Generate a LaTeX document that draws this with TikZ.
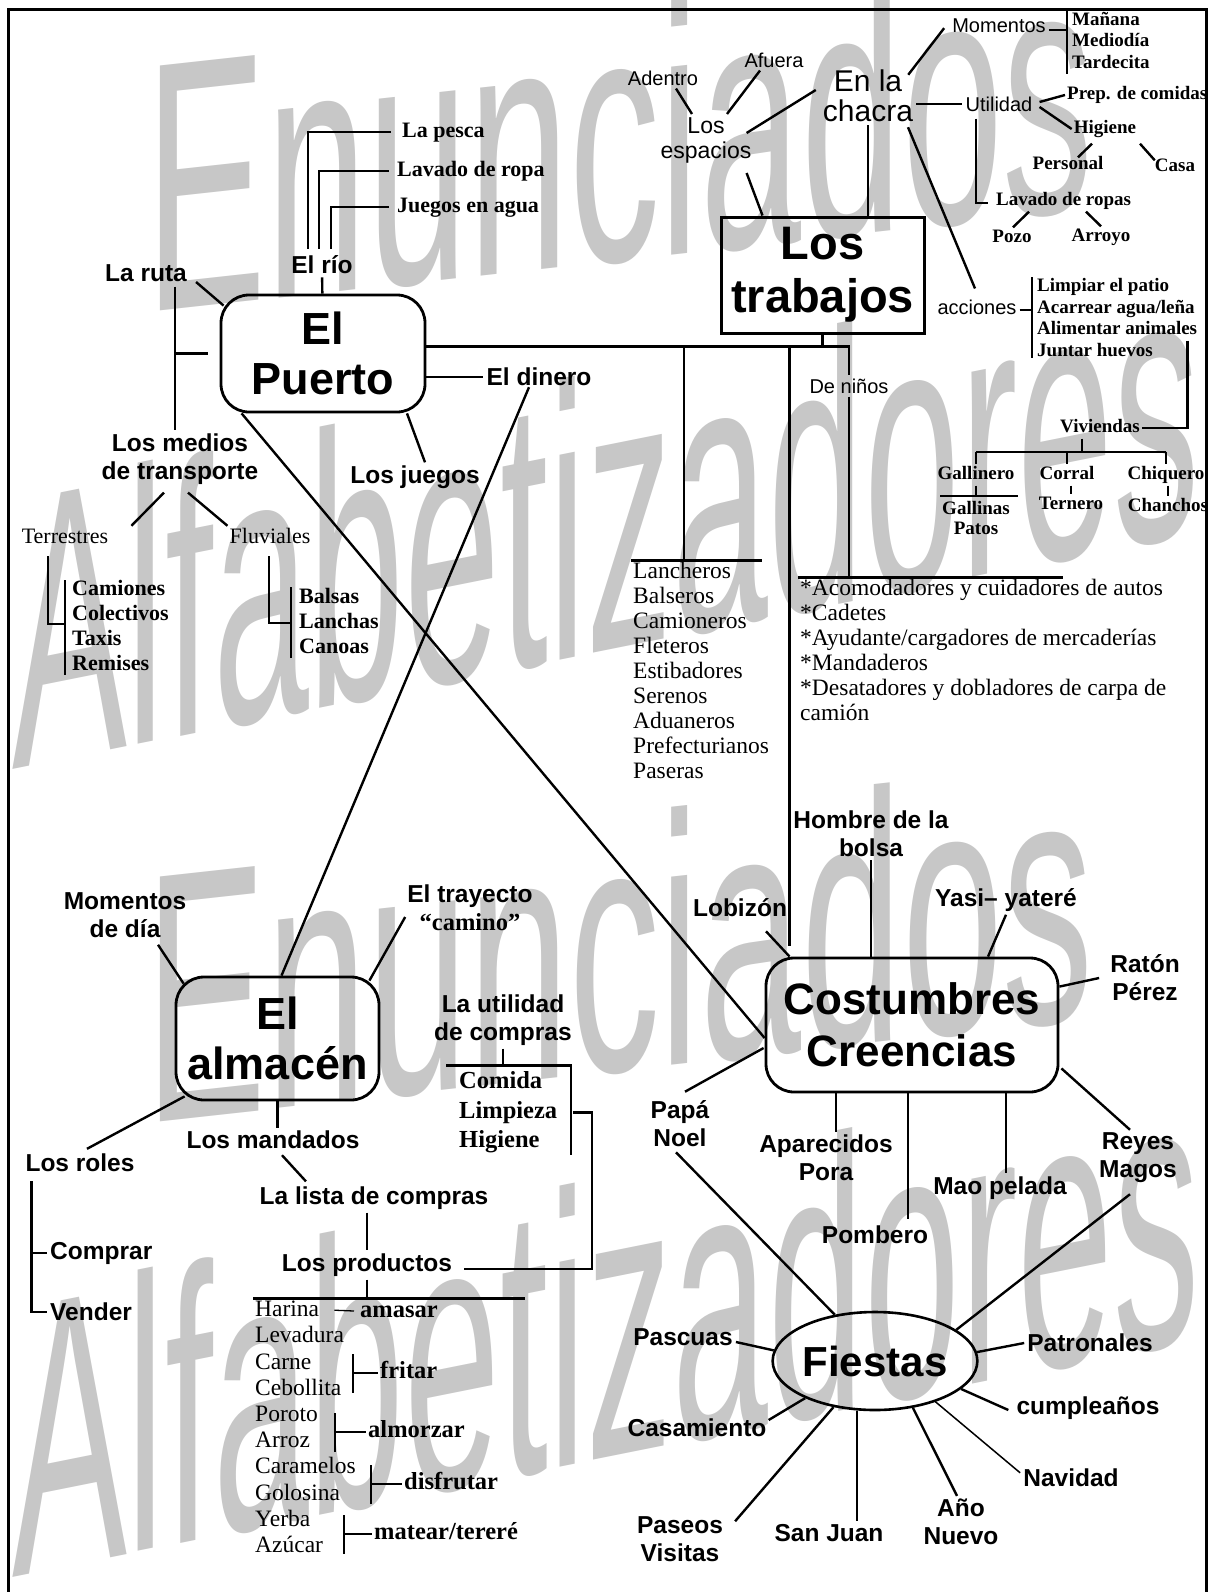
\documentclass[tikz,border=0pt]{standalone}
\usepackage{fontspec}
\setmainfont{Liberation Serif}
\setsansfont{Liberation Sans}
\usetikzlibrary{positioning,shapes.geometric,calc}

\tikzset{
  wmark/.style={text=black!22, font=\sffamily\fontsize{356}{356}\selectfont,
    inner sep=0pt, anchor=base west},
  lbl/.style={font=\sffamily\bfseries\fontsize{24.5}{28}\selectfont, align=center, inner sep=3pt},
  lblreg/.style={font=\sffamily\fontsize{20}{25}\selectfont, align=center, inner sep=3pt},
  serA/.style={font=\rmfamily\bfseries\fontsize{19}{21}\selectfont, inner sep=2pt,
    text height=13pt, text depth=4pt},
  serAm/.style={font=\rmfamily\bfseries\fontsize{19}{20}\selectfont, inner sep=2pt, align=center},
  serB/.style={font=\rmfamily\bfseries\fontsize{22}{25}\selectfont, inner sep=2pt,
    text height=15pt, text depth=5pt},
  serR/.style={font=\rmfamily\fontsize{22}{25}\selectfont, inner sep=2pt,
    text height=15pt, text depth=5pt},
  serL/.style={font=\rmfamily\fontsize{23.5}{26}\selectfont, inner sep=2pt,
    text height=16pt, text depth=5pt},
  serC/.style={font=\rmfamily\bfseries\fontsize{24.5}{28}\selectfont, inner sep=2pt,
    text height=17pt, text depth=5.5pt},
  bigbox/.style={draw, line width=2.8pt, rounded corners=28pt, align=center,
    font=\sffamily\bfseries\fontsize{45}{50}\selectfont},
  con/.style={line width=2.4pt},
}

\begin{document}
\begin{tikzpicture}[x=1pt, y=-1pt]
\useasboundingbox (0,0) rectangle (1212,1592);

% marcas de agua
\node[wmark, xscale=0.51, yslant=0.056] (wm-e1) at (145,313) {Enunciados};
\node[wmark, xscale=0.51, yslant=0.056] (wm-e2) at (145,1123) {Enunciados};
\node[wmark, font=\sffamily\fontsize{388}{388}\selectfont, xscale=0.444, yslant=0.089] (wm-a1) at (12,770) {Alfabetizadores};
\node[wmark, font=\sffamily\fontsize{388}{388}\selectfont, xscale=0.444, yslant=0.089] (wm-a2) at (12,1577) {Alfabetizadores};

% marco
\draw[line width=3pt] (8.5,1592) -- (8.5,9.5) -- (1206,9.5) -- (1206,1592);

% nodos principales
\node[bigbox, minimum width=204pt, minimum height=117pt] (puerto) at (323,353.5) {El\\Puerto};
\node[draw, line width=3pt, minimum width=203pt, minimum height=116pt, align=center,
  font=\sffamily\bfseries\fontsize{47}{53}\selectfont] (trabajos) at (822.5,275) {Los\\trabajos};
\node[bigbox, minimum width=203pt, minimum height=123pt] (almacen) at (277.5,1038.5) {El\\almacén};
\node[bigbox, minimum width=292pt, minimum height=134pt,
  font=\sffamily\bfseries\fontsize{44}{52}\selectfont] (cost) at (912,1025) {Costumbres\\Creencias};
\node[draw, ellipse, line width=2.6pt, minimum width=201pt, minimum height=98pt, inner sep=0pt,
  font=\sffamily\bfseries\fontsize{42}{42}\selectfont] (fiestas) at (875,1361) {Fiestas};

% El Puerto
\node[lbl] (rio) at (322,265) {El río};
\node[serB, anchor=west] (pesca) at (400,132) {La pesca};
\node[serB, anchor=west] (lavado) at (395,171) {Lavado de ropa};
\node[serB, anchor=west] (juegosagua) at (395,207) {Juegos en agua};
\draw[con] ($(rio.north)+(-14,-4)$) |- ($(pesca.west)+(-9,0)$);
\draw[con] ($(rio.north)+(-3,-4)$) |- ($(lavado.west)+(-6,0)$);
\draw[con] ($(rio.north)+(9,-4)$) |- ($(juegosagua.west)+(-6,0)$);
\draw[con] (rio) -- (puerto);

\node[lbl] (ruta) at (146,273) {La ruta};
\draw[con] ($(ruta.east)+(6,9)$) -- ($(puerto.north west)+(4,12)$);
\node[lbl] (medios) at (180,459) {Los medios\\de transporte};
\coordinate (rutaj) at ($(ruta.south)+(29,2)$);
\draw[con] (rutaj) -- (rutaj |- medios.north);
\draw[con] (rutaj |- puerto.west) -- ($(puerto.west)+(-12,0)$);

\node[lbl] (dinero) at (539,377) {El dinero};
\draw[con] (puerto.east |- dinero.west) -- (dinero.west);
\node[lbl] (juegos) at (415,477) {Los juegos};
\draw[con] ($(puerto.south)+(84,0)$) -- ($(juegos.north)+(10,0)$);

\draw[con] ($(dinero.south)+(-10,-2)$) -- ($(almacen.north)+(4,0)$);
\draw[con] ($(puerto.south west)+(22,0)$) -- ($(cost.west)+(0,13)$);

% medios de transporte
\node[serR] (terr) at (65,538) {Terrestres};
\node[serR] (fluv) at (270,538) {Fluviales};
\draw[con] ($(medios.south)+(-16,5)$) -- ($(terr.north east)+(21,0)$);
\draw[con] ($(medios.south)+(8,5)$) -- (fluv.north west);
\foreach \t [count=\i] in {Camiones,Colectivos,Taxis,Remises}
  \node[serB, anchor=west] (tl-\i) at (70,565+25*\i) {\t};
\draw[con] ($(terr.south)+(-17,6)$) |- ($(tl-2.west)+(-5,9)$);
\draw[con] ($(tl-1.west)+(-5,-10)$) -- ($(tl-4.west)+(-5,10)$);
\foreach \t [count=\i] in {Balsas,Lanchas,Canoas}
  \node[serB, anchor=west] (fl-\i) at (297,573+25*\i) {\t};
\draw[con] ($(fluv.south)+(-1,6)$) |- ($(fl-2.west)+(-6,0)$);
\draw[con] ($(fl-1.west)+(-6,-11)$) -- ($(fl-3.west)+(-6,10)$);

% Los trabajos
\node[lblreg, font=\sffamily\fontsize{30}{30}\selectfont] (chacra) at (868,96) {En la\\chacra};
\node[lblreg, font=\sffamily\fontsize{23}{25}\selectfont] (espacios) at (706,140) {Los\\espacios};
\node[lblreg] (adentro) at (663,78) {Adentro};
\node[lblreg] (afuera) at (774,60) {Afuera};
\draw[con] ($(adentro.south)+(13,0)$) -- ($(espacios.north)+(-14,0)$);
\draw[con] ($(afuera.south)+(-14,0)$) -- ($(espacios.north)+(21,0)$);
\draw[con] ($(chacra.west)+(-4,-6)$) -- ($(espacios.east)+(-8,-7)$);
\draw[con] ($(espacios.south east)+(-8,7)$) -- ($(trabajos.north west)+(43,0)$);
\draw[con] (chacra.south) -- (chacra.south |- trabajos.north);

\node[lblreg] (momentos) at (999,26) {Momentos};
\foreach \t [count=\i] in {Mañana,Mediodía,Tardecita}
  \node[serA, anchor=west] (mo-\i) at (1070,-0.5+21.5*\i) {\t};
\draw[con] ($(mo-1.west)+(-3,-12)$) -- ($(mo-3.west)+(-3,10)$);
\draw[con] ($(momentos.east)+(0,4)$) -- ($(momentos.east -| mo-1.west)+(-3,4)$);
\draw[con] ($(chacra.north east)+(-8,8)$) -- ($(momentos.south west)+(-5,-8)$);

\node[lblreg] (utilidad) at (999,104) {Utilidad};
\draw[con] (chacra.east |- utilidad.west) -- (utilidad.west);
\node[serA, anchor=west] (prep) at (1065,95) {Prep. de comidas};
\node[serA] (higiene) at (1105,129) {Higiene};
\node[serA] (personal) at (1068,165) {Personal};
\node[serA] (casa) at (1175,167) {Casa};
\draw[con] ($(utilidad.east)+(4,-2)$) -- (prep.west);
\draw[con] ($(utilidad.east)+(4,3)$) -- (higiene.west);
\draw[con] ($(higiene.south)+(-13,4)$) -- ($(personal.north)+(10,3)$);
\draw[con] ($(higiene.south)+(35,4)$) -- ($(casa.north west)+(2,4)$);

\node[serA, anchor=west] (lavropa) at (994,201) {Lavado de ropas};
\draw[con] ($(utilidad.south)+(-23,4)$) |- ($(lavropa.west)+(-6,2)$);
\node[serA] (pozo) at (1012,238) {Pozo};
\node[serA] (arroyo) at (1101,237) {Arroyo};
\draw[con] ($(lavropa.south west)+(35,0)$) -- ($(pozo.north)+(1,0)$);
\draw[con] ($(lavropa.south west)+(92,0)$) -- (arroyo.north);

\node[lblreg] (acciones) at (977,307) {acciones};
\draw[con] ($(chacra.south)+(40,2)$) -- ($(acciones.north)+(-2,-8)$);
\foreach \t [count=\i] in {Limpiar el patio,Acarrear agua/leña,Alimentar animales,Juntar huevos}
  \node[serA, anchor=west] (ac-\i) at (1035,265.5+21.5*\i) {\t};
\draw[con] ($(ac-1.west)+(-3,-10)$) -- ($(ac-4.west)+(-3,6)$);
\draw[con] ($(acciones.east)+(0,3)$) -- ($(acciones.east -| ac-1.west)+(-3,3)$);

\node[serA] (viviendas) at (1100,428) {Viviendas};
\draw[con] ($(ac-3.south east)+(-12,0)$) |- (viviendas.east);
\node[serA] (gallinero) at (976,475) {Gallinero};
\node[serA] (corral) at (1067,475) {Corral};
\node[serA] (chiquero) at (1166,475) {Chiquero};
\coordinate (vj) at ($(viviendas.south)+(-18,13)$);
\draw[con] ($(viviendas.south)+(-18,0)$) -- (vj);
\draw[con] (gallinero.north |- vj) -- (chiquero.north |- vj);
\foreach \n in {gallinero,corral,chiquero}
  \draw[con] (\n.north |- vj) -- (\n.north);
\node[serAm] (gallinas) at (976,518) {Gallinas\\Patos};
\coordinate (gj) at ($(gallinas.north)+(0,-3)$);
\draw[con] (gallinero.south) -- (gj);
\draw[con] ($(gallinas.north west)+(0,-3)$) -- ($(gallinas.north east)+(6,-3)$);
\node[serA] (ternero) at (1071,505) {Ternero};
\node[serA] (chanchos) at (1168,507) {Chanchos};
\draw[line width=1.8pt] (corral.south -| ternero.north) -- (ternero.north);
\draw[line width=1.8pt] (chiquero.south -| chanchos.north) -- (chanchos.north);

\coordinate (tj) at ($(trabajos.south)+(0,12)$);
\draw[con] (trabajos.south) -- (tj);
\node[lblreg] (ninos) at (849,386) {De niños};
\draw[con] (puerto.east |- tj) -- (ninos.north |- tj) -- (ninos.north);

\foreach \t [count=\i] in {Lancheros,Balseros,Camioneros,Fleteros,Estibadores,Serenos,Aduaneros,Prefecturianos,Paseras}
  \node[serL, anchor=west] (ln-\i) at (631,548+25*\i) {\t};
\draw[con] (ln-1.north west) -- ($(ln-1.north west)+(131,0)$);
\draw[con] ($(ln-1.north west)+(53,0)$) -- ($(ln-1.north west |- tj)+(53,0)$);

\foreach \t [count=\i] in {*Acomodadores y cuidadores de autos,*Cadetes,*Ayudante/cargadores de mercaderías,*Mandaderos,*Desatadores y dobladores de carpa de,camión}
  \node[serL, anchor=west] (nl-\i) at (798,565+25*\i) {\t};
\draw[con] (ninos.south) -- (ninos.south |- nl-1.north);
\draw[con] (nl-1.north west) -- ($(nl-1.north west)+(265,0)$);

% Costumbres / Creencias
\coordinate (cj) at ($(cost.north west)+(25,-11)$);
\draw[con] (cj |- tj) -- (cj);
\node[lbl] (hombre) at (871,834) {Hombre de la\\bolsa};
\draw[con] (hombre.south) -- (hombre.south |- cost.north);
\node[lbl] (lobizon) at (740,908) {Lobizón};
\draw[con] ($(lobizon.south)+(26,11)$) -- ($(cost.north west)+(25,0)$);
\node[lbl] (yasi) at (1006,900) {Yasi– yateré};
\draw[con] (yasi.south) -- ($(cost.north)+(76,0)$);
\node[lbl] (raton) at (1145,978) {Ratón\\Pérez};
\draw[con] ($(raton.west)+(-8,0)$) -- ($(cost.north east)+(0,30)$);
\node[lbl] (papa) at (680,1124) {Papá\\Noel};
\draw[con] ($(cost.west)+(-1,23)$) -- ($(papa.north)+(5,-6)$);
\node[lbl] (aparecidos) at (826,1158) {Aparecidos\\Pora};
\draw[con] ($(cost.south)+(-76,0)$) -- ($(cost.south |- aparecidos.north)+(-76,0)$);
\node[lbl] (pombero) at (875,1235) {Pombero};
\draw[con] ($(cost.south)+(-4,0)$) -- ($(cost.south |- pombero.north)+(-4,-4)$);
\node[lbl] (mao) at (1000,1188) {Mao pelada};
\draw[con] ($(cost.south)+(94,0)$) -- ($(cost.south |- mao.north)+(94,0)$);
\node[lbl] (reyes) at (1138,1158) {Reyes\\Magos};
\draw[con] ($(cost.south east)+(2,-25)$) -- ($(reyes.north)+(-8,0)$);

% Fiestas
\draw[con] ($(papa.south)+(-4,2)$) -- (fiestas.131);
\draw[con] ($(reyes.south)+(-8,8)$) -- (fiestas.21);
\node[lbl] (pascuas) at (683,1337) {Pascuas};
\draw[con] ($(pascuas.east)+(0,5)$) -- (fiestas.174);
\node[lbl] (patronales) at (1090,1343) {Patronales};
\draw[con] (patronales.west) -- (fiestas.5);
\node[lbl] (cumple) at (1088,1408) {cumpleaños};
\draw[con] (fiestas.342) -- ($(cumple.west)+(-5,2)$);
\node[lbl] (navidad) at (1071,1478) {Navidad};
\draw[line width=1.5pt] (fiestas.326) -- ($(navidad.north west)+(0,7)$);
\node[lbl] (anio) at (961,1522) {Año\\Nuevo};
\draw[con] (fiestas.309) -- ($(anio.north)+(-4,0)$);
\node[lbl] (sanjuan) at (829,1533) {San Juan};
\draw[con] (fiestas.250) -- (fiestas.250 |- sanjuan.north);
\node[lbl] (paseos) at (680,1539) {Paseos\\Visitas};
\draw[con] (fiestas.228) -- ($(paseos.north east)+(9,8)$);
\node[lbl] (casamiento) at (697,1428) {Casamiento};
\draw[con] (fiestas.208) -- ($(casamiento.east)+(-1,-8)$);

% El almacen
\node[lbl] (momdia) at (125,915) {Momentos\\de día};
\draw[con] ($(momdia.south)+(33,4)$) -- ($(almacen.north west)+(9,8)$);
\node[lbl] (trayecto) at (470,908) {El trayecto\\{\rmfamily“camino”}};
\draw[con] ($(trayecto.west)+(1,9)$) -- ($(almacen.north east)+(-11,5)$);

\node[lbl] (utilcompras) at (503,1020) {La utilidad\\de compras};
\foreach \t [count=\i] in {Comida,Limpieza,Higiene}
  \node[serC, anchor=west] (uc-\i) at (457,1053.5+29.5*\i) {\t};
\coordinate (ucj) at ($(uc-1.north west)+(-11,-4)$);
\draw[con] (ucj) -| ($(uc-3.south west)+(114,0)$);
\draw[con] (utilcompras.south) -- (utilcompras.south |- ucj);

\node[lbl] (mandados) at (273,1140) {Los mandados};
\draw[con] (almacen.south) -- (almacen.south |- mandados.north);
\node[lbl] (lista) at (374,1198) {La lista de compras};
\draw[con] ($(mandados.south)+(9,3)$) -- ($(lista.north)+(-68,-2)$);
\node[lbl] (productos) at (367,1265) {Los productos};
\draw[con] (productos.north |- lista.south) -- (productos.north);
\draw[con] ($(uc-2.west)+(116,0)$) -- ($(uc-2.west)+(135,0)$) |- ($(productos.east)+(9,4)$);

\foreach \t [count=\i] in {Harina,Levadura,Carne,Cebollita,Poroto,Arroz,Caramelos,Golosina,Yerba,Azúcar}
  \node[serL, anchor=west] (pr-\i) at (253,1285+26.2*\i) {\t};
\draw[con] (productos.south) -- (productos.south |- pr-1.north);
\draw[con] (pr-1.north west) -- ($(pr-1.north west)+(272,0)$);

\node[serC, anchor=west] (amasar) at (358,1312) {amasar};
\draw[line width=1.3pt] ($(pr-1.east)+(13,-1)$) -- ($(amasar.west)+(-4,-1)$);
\node[serC, anchor=west] (fritar) at (378,1373) {fritar};
\node[serC, anchor=west] (almorzar) at (366,1432) {almorzar};
\node[serC, anchor=west] (disfrutar) at (402,1484) {disfrutar};
\node[serC, anchor=west] (matear) at (372,1534) {matear/tereré};
\foreach \v/\d in {fritar/25,almorzar/31,disfrutar/31,matear/28}{
  \draw[con] ($(\v.west)+(-\d,-19)$) -- ($(\v.west)+(-\d,20)$);
  \draw[con] ($(\v.west)+(-\d,0)$) -- (\v.west);
}

\node[lbl] (roles) at (80,1163) {Los roles};
\draw[con] ($(almacen.south west)+(10,-5)$) -- ($(roles.north)+(7,-2)$);
\node[lbl, anchor=west] (comprar) at (47,1253) {Comprar};
\node[lbl, anchor=west] (vender) at (47,1312) {Vender};
\coordinate (rj) at ($(roles.south west)+(9,6)$);
\draw[con] (rj) |- (vender.west);
\draw[con] (rj |- comprar.west) -- (comprar.west);
\end{tikzpicture}
\end{document}
